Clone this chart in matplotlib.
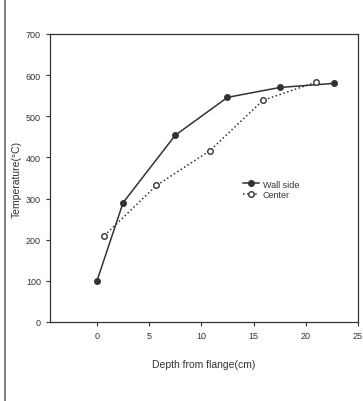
import matplotlib.pyplot as plt
from matplotlib.lines import Line2D

# data
wall_x = [0.0, 2.5, 7.5, 12.5, 17.5, 22.7]
wall_y = [100, 290, 454, 546, 570, 580]
center_x = [0.7, 5.7, 10.8, 15.9, 21.0]
center_y = [210, 332, 416, 539, 583]
x_ticks = [0, 5, 10, 15, 20, 25]
y_ticks = [0, 100, 200, 300, 400, 500, 600, 700]

plt.rcParams['font.family'] = ['Liberation Sans', 'DejaVu Sans']
ink = '#333333'

fig = plt.figure(figsize=(3.63, 4.02), dpi=100)
ax = fig.add_axes([50/363, 1-323/402, 308/363, 288/402])

ax.plot(wall_x, wall_y, '-', color=ink, lw=1.1, marker='o', ms=4,
        mfc=ink, mec=ink, label='Wall side')
ax.plot(center_x, center_y, ':', color=ink, lw=1.1, marker='o', ms=4,
        mfc='white', mec=ink, label='Center')

ax.set_xlim(-4.5, 25)
ax.set_ylim(0, 700)
ax.set_xticks(x_ticks)
ax.set_yticks(y_ticks)
ax.tick_params(direction='out', length=3, width=0.8, labelsize=6.5, colors=ink)
for s in ax.spines.values():
    s.set_color(ink)
    s.set_linewidth(0.9)

ax.set_xlabel('Depth from flange(cm)', fontsize=7.5, color=ink, labelpad=14)
ax.set_ylabel('Temperature(°C)', fontsize=7.5, color=ink, labelpad=3)

ax.legend(loc='center left', bbox_to_anchor=(0.6, 0.46), frameon=False,
          fontsize=6.5, handlelength=1.8, handletextpad=0.4, labelspacing=0.2,
          labelcolor=ink)

# page border line on the left
fig.add_artist(Line2D([5/363, 5/363], [0, 1], transform=fig.transFigure,
                      color='#666666', lw=1.2))

fig.savefig('out.png', dpi=100)
